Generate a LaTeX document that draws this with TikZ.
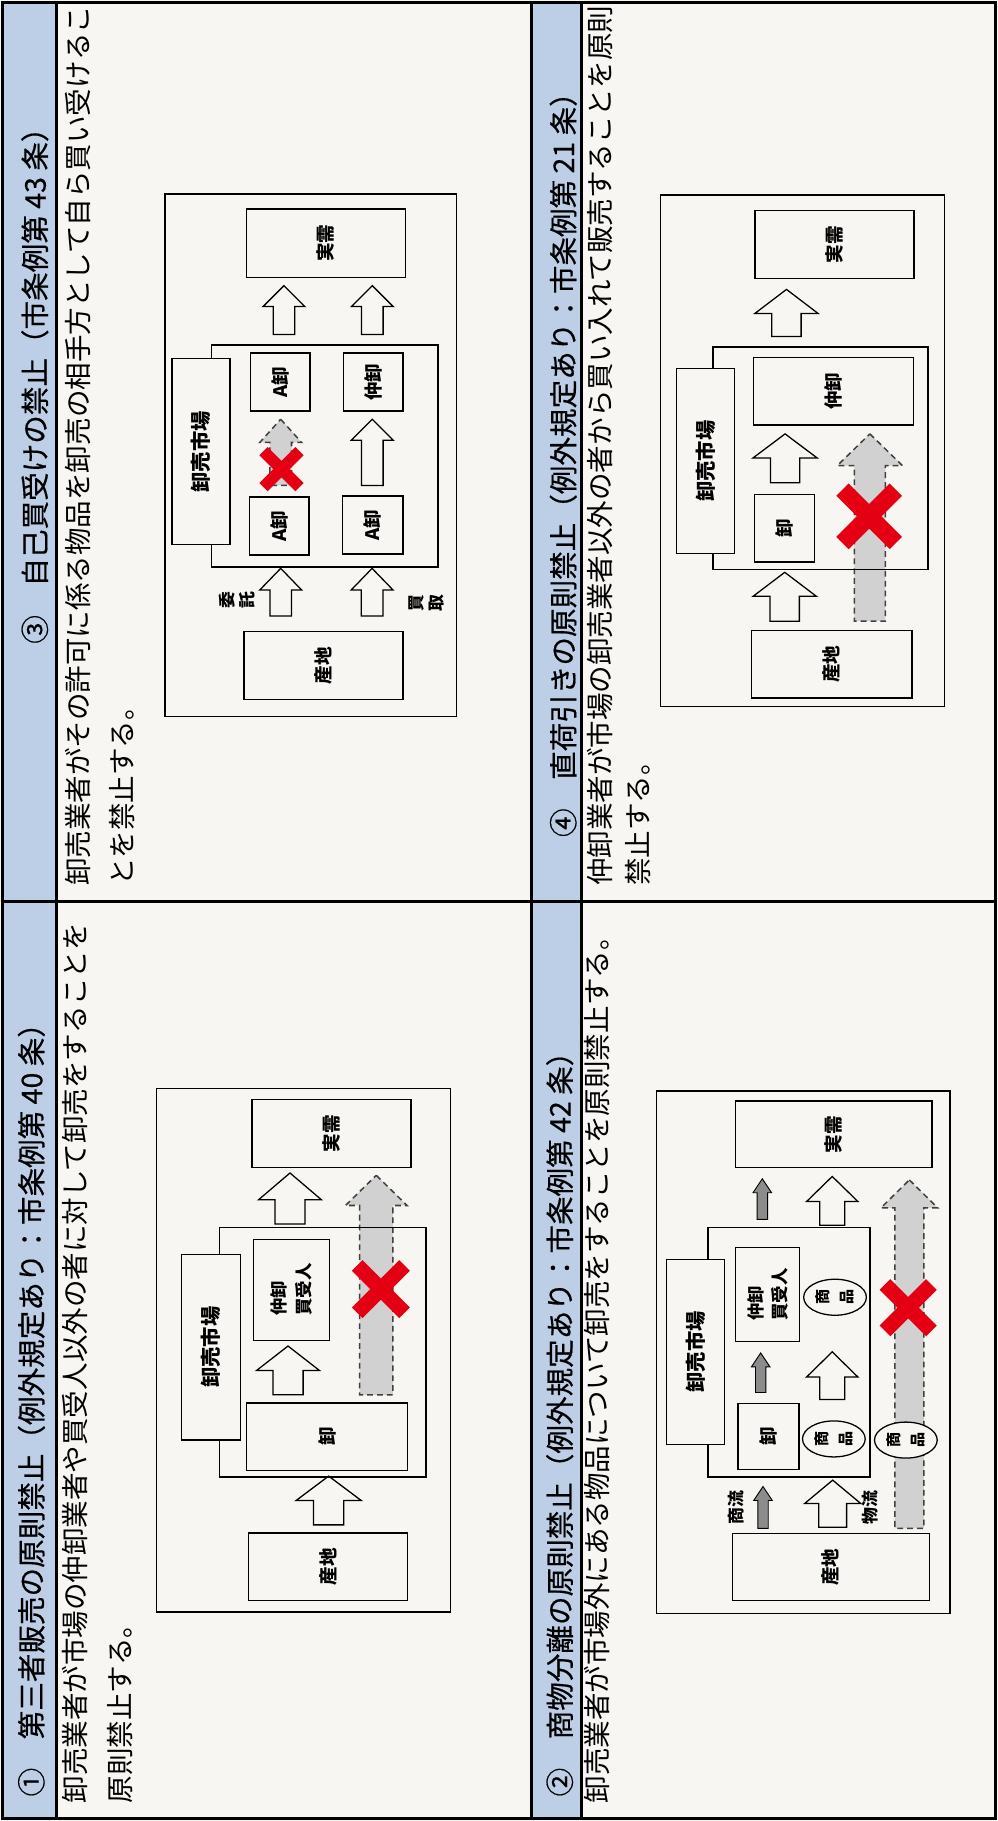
\documentclass[tikz,border=0pt]{standalone}
\usepackage{fontspec}
\setmainfont{Noto Sans CJK JP}
\newfontfamily\hdfont{Noto Sans CJK JP}[FakeBold=0.5]
\usetikzlibrary{shapes.geometric}
\definecolor{paper}{RGB}{247,246,242}
\definecolor{hdblue}{RGB}{189,207,231}
\definecolor{ngred}{RGB}{228,0,18}
% block arrow pointing up: [style]{x}{tip y}{bottom y}{head half}{shaft half}{head length}
\newcommand{\uparr}[7][wharr]{%
  \draw[#1] (#2,#3) -- ({#2+#5},{#3+#7}) -- ({#2+#6},{#3+#7}) -- ({#2+#6},#4)
    -- ({#2-#6},#4) -- ({#2-#6},{#3+#7}) -- ({#2-#5},{#3+#7}) -- cycle;}
% red cross: {x}{y}{half size}{line width}
\newcommand{\nox}[4]{%
  \draw[ngred, line width=#4pt] ({#1-#3},{#2-#3}) -- ({#1+#3},{#2+#3})
    ({#1-#3},{#2+#3}) -- ({#1+#3},{#2-#3});}

\begin{document}
\begin{tikzpicture}[x=1pt, y=-1pt,
  bx/.style={draw, line width=1.1pt, fill=paper, inner sep=0pt, rotate=90,
    font=\bfseries\fontsize{16}{18}\selectfont},
  mktlbl/.style={font=\bfseries\fontsize{17.5}{19}\selectfont},
  mkt/.style={line width=1.4pt},
  frm/.style={line width=1.1pt},
  tbl/.style={line width=2.6pt},
  hdr/.style={rotate=90, inner sep=0pt, font=\hdfont\fontsize{24.6}{28}\selectfont},
  body/.style={rotate=90, inner sep=0pt, anchor=west, font=\fontsize{23.7}{28}\selectfont},
  smlbl/.style={rotate=90, inner sep=0pt, align=center, font=\bfseries\fontsize{14.5}{17}\selectfont},
  wharr/.style={draw, line width=1.1pt, fill=paper},
  grarr/.style={draw=black!75, dash pattern=on 5pt off 3.5pt, line width=1.3pt, fill=black!18},
  smarr/.style={draw, line width=0.8pt, fill=black!45},
  shohin/.style={ellipse, draw, line width=1.1pt, fill=paper, rotate=90, inner sep=0pt,
    minimum width=31pt, minimum height=54pt, align=center,
    font=\bfseries\fontsize{13}{21}\selectfont},
]
\useasboundingbox (0,0) rectangle (859,1568);
\fill[paper] (0,0) rectangle (859,1568);

% Table
\fill[hdblue] (2,2) rectangle (49,1566);
\fill[hdblue] (458,2) rectangle (501,1566);
\draw[tbl] (2,2) rectangle (857,1566);
\draw[tbl] (49,2) -- (49,1566) (458,2) -- (458,1566) (501,2) -- (501,1566) (2,776) -- (857,776);

% Headers
\node[hdr, anchor=west] (h1) at (27,1547) {①　第三者販売の原則禁止（例外規定あり：市条例第 40 条）};
\node[hdr, anchor=west] (h2) at (482,1547) {②　商物分離の原則禁止（例外規定あり：市条例第 42 条）};
\node[hdr] (h3) at (30,326) {③　自己買受けの禁止（市条例第 43 条）};
\node[hdr] (h4) at (485,394) {④　直荷引きの原則禁止（例外規定あり：市条例第 21 条）};

% Texts
\node[body] (b1a) at (65,1553) {卸売業者が市場の仲卸業者や買受人以外の者に対して卸売をすることを};
\node[body] (b1b) at (103,1553) {原則禁止する。};
\node[body] (b2) at (514,1553) {卸売業者が市場外にある物品について卸売をすることを原則禁止する。};
\node[body] (b3a) at (67,763) {卸売業者がその許可に係る物品を卸売の相手方として自ら買い受けるこ};
\node[body] (b3b) at (105,763) {とを禁止する。};
\node[body] (b4a) at (517,763) {仲卸業者が市場の卸売業者以外の者から買い入れて販売することを原則};
\node[body] (b4b) at (549,763) {禁止する。};

% (1) third party sale
\draw[frm] (135,937) rectangle (388,1388);
\uparr{249.7}{1010}{1054}{27}{13}{23}
\uparr[grarr]{324}{1012}{1201}{26.5}{14.3}{26}
\uparr{248}{1159}{1201}{27}{13}{21}
\uparr{283}{1271}{1313}{28}{13}{21}
\draw[mkt] (189,1057) rectangle (367,1272);
\node[bx, minimum width=58pt, minimum height=137pt] (jitsu1) at (285.5,976) {実需};
\node[bx, mktlbl, minimum width=160pt, minimum height=51pt] (ichiba1) at (181.5,1160) {卸売市場};
\node[bx, minimum width=87pt, minimum height=66pt, align=left, font=\bfseries\fontsize{15}{22}\selectfont] (naka1) at (251,1110.5) {仲卸\\買受人};
\node[bx, minimum width=58pt, minimum height=139pt] (oroshi1) at (281.5,1237) {卸};
\node[bx, minimum width=58pt, minimum height=137pt] (sanchi1) at (282.5,1349) {産地};
\nox{328}{1110}{20.4}{13}

% (3) self purchase
\draw[frm] (142,167) rectangle (393,617);
\uparr{244.5}{246}{288}{18}{9.3}{18}
\uparr{320.6}{246}{288}{18}{9.3}{18}
\uparr[grarr]{241.7}{361}{418}{18}{9.3}{20}
\uparr{320.6}{361}{418}{18}{9.3}{18}
\uparr{241.7}{489.4}{530.4}{18}{9.3}{18.6}
\uparr{320.4}{489.4}{530.4}{18}{9.3}{18.6}
\draw[mkt] (182,297) rectangle (377,488);
\node[bx, minimum width=59pt, minimum height=137pt] (jitsu3) at (280.5,209.5) {実需};
\node[bx, mktlbl, minimum width=160pt, minimum height=50pt] (ichiba3) at (173,389) {卸売市場};
\node[bx, minimum width=50pt, minimum height=51pt] (au3) at (241.5,329) {A卸};
\node[bx, minimum width=50pt, minimum height=51.5pt] (naka3) at (321.3,329) {仲卸};
\node[bx, minimum width=50pt, minimum height=51pt] (al3) at (240.5,453) {A卸};
\node[bx, minimum width=50pt, minimum height=52pt] (ar3) at (321,452) {A卸};
\node[bx, minimum width=58pt, minimum height=137pt] (sanchi3) at (278.5,573) {産地};
\nox{242.4}{404}{15.5}{10}
\node[smlbl] (itaku) at (204,517) {委\\託};
\node[smlbl] (kaitori) at (367,519) {買\\取};

% (2) separation of trade and goods
\draw[frm] (565.5,939.5) rectangle (818,1389.5);
\uparr[smarr]{656.4}{1015}{1050}{8}{4.5}{12}
\uparr{716.6}{1013}{1055}{22}{10.8}{21.5}
\uparr[grarr]{783}{1016}{1316}{24.4}{12.5}{24}
\uparr[smarr]{655}{1165}{1199}{8}{4.5}{12}
\uparr{716.6}{1164}{1205}{22}{10.8}{21.6}
\uparr[smarr]{657}{1280}{1316}{8}{4.5}{12}
\uparr{717}{1274.5}{1315}{24}{12}{20}
\draw[mkt] (609.7,1057) rectangle (749,1272);
\node[bx, minimum width=57.5pt, minimum height=169pt] (jitsu2) at (718,976.8) {実需};
\node[bx, mktlbl, minimum width=159.5pt, minimum height=50pt] (ichiba2) at (599,1164) {卸売市場};
\node[bx, minimum width=81pt, minimum height=55pt, align=left, font=\bfseries\fontsize{15}{21}\selectfont] (naka2) at (661,1114.5) {仲卸\\買受人};
\node[bx, minimum width=57pt, minimum height=52.5pt] (oroshi2) at (661.8,1236.9) {卸};
\node[bx, minimum width=57.5pt, minimum height=169.5pt] (sanchi2) at (715.3,1349.3) {産地};
\node[shohin] (sh2a) at (719,1117) {商\\品};
\node[shohin] (sh2b) at (718,1239) {商\\品};
\node[shohin] (sh2c) at (780,1240) {商\\品};
\nox{782}{1126}{20}{13}
\node[smlbl] (shoryu) at (634,1298) {商流};
\node[smlbl] (butsuryu) at (749,1298) {物流};

% (4) direct purchase
\draw[frm] (569,168) rectangle (813.4,608.4);
\uparr{677.2}{249.2}{289.8}{27.2}{12.6}{20.7}
\uparr{676}{373.6}{415.7}{27.7}{12.6}{20.8}
\uparr{675.7}{492.8}{534.9}{27.3}{12.6}{20.7}
\uparr[grarr]{749}{373.6}{534.9}{28}{13.3}{27.3}
\draw[mkt] (614,299) rectangle (799,490.4);
\node[bx, minimum width=58pt, minimum height=137pt] (jitsu4) at (718.5,210.5) {実需};
\node[bx, mktlbl, minimum width=159pt, minimum height=50pt] (ichiba4) at (607.6,397) {卸売市場};
\node[bx, minimum width=58pt, minimum height=137.7pt] (naka4) at (717.9,337) {仲卸};
\node[bx, minimum width=58pt, minimum height=52pt] (oroshi4) at (675.4,455) {卸};
\node[bx, minimum width=58pt, minimum height=138pt] (sanchi4) at (716.2,572) {産地};
\nox{748.4}{444.6}{23}{15}
\end{tikzpicture}
\end{document}
